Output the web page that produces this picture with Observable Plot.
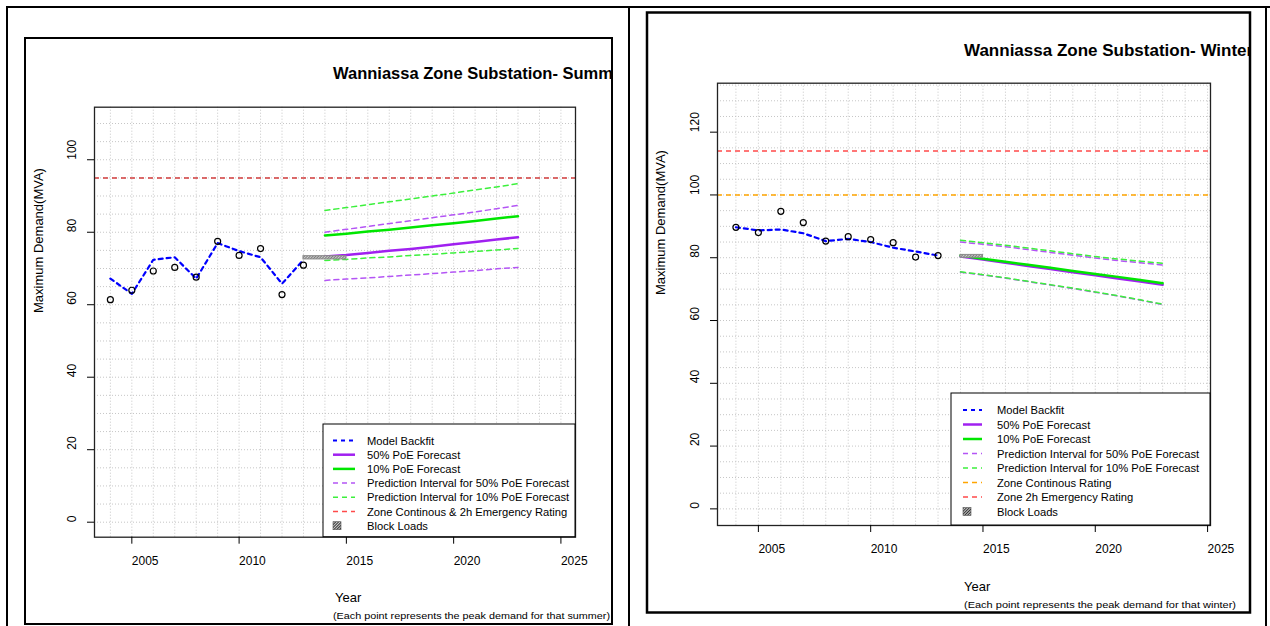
<!DOCTYPE html>
<html><head><meta charset="utf-8">
<script src="https://cdn.jsdelivr.net/npm/d3@7"></script>
<script src="https://cdn.jsdelivr.net/npm/@observablehq/plot@0.6"></script>
<style>
body{margin:0;background:#fff;width:1270px;height:626px;overflow:hidden;position:relative;font-family:"Liberation Sans",Arial,sans-serif;}
.plot{position:absolute;}
#overlay{position:absolute;left:0;top:0;}
</style></head><body>
<div id="left" class="plot" style="left:0;top:0;width:628px;height:626px"></div>
<div id="right" class="plot" style="left:640px;top:0;width:630px;height:626px"></div>
<svg id="overlay" width="1270" height="626"></svg>
<script>
// ---------- data ----------
const obsYears = [2004, 2005, 2006, 2007, 2008, 2009, 2010, 2011, 2012, 2013];
const summerPeak    = [61.4, 64.0, 69.3, 70.3, 67.6, 77.5, 73.6, 75.5, 62.8, 70.9];
const summerBackfit = [67.2, 63.0, 72.4, 73.1, 67.2, 77.0, 74.8, 73.1, 65.8, 72.4];
const winterPeak    = [89.7, 88.0, 94.8, 91.2, 85.3, 86.7, 85.8, 84.8, 80.2, 80.7];
const winterBackfit = [89.7, 88.7, 89.0, 87.8, 85.3, 86.0, 85.0, 83.2, 82.0, 80.7];

const fcYears = [2014, 2015, 2016, 2017, 2018, 2019, 2020, 2021, 2022, 2023];
const summerP50    = [73.3, 73.7, 74.3, 74.9, 75.4, 76.0, 76.7, 77.3, 78.0, 78.6];
const summerP10    = [79.1, 79.6, 80.2, 80.7, 81.3, 81.9, 82.5, 83.1, 83.8, 84.4];
const summerPI50Up = [80.0, 80.8, 81.6, 82.4, 83.2, 84.0, 84.8, 85.6, 86.5, 87.4];
const summerPI50Lo = [66.7, 67.1, 67.4, 67.8, 68.2, 68.6, 69.0, 69.4, 69.9, 70.3];
const summerPI10Up = [86.0, 86.8, 87.6, 88.4, 89.2, 90.0, 90.8, 91.7, 92.5, 93.4];
const summerPI10Lo = [72.2, 72.5, 72.9, 73.2, 73.6, 73.9, 74.3, 74.7, 75.1, 75.5];

const winterP50    = [80.4, 79.4, 78.4, 77.4, 76.4, 75.4, 74.4, 73.4, 72.4, 71.4];
const winterP10    = [80.7, 79.7, 78.7, 77.8, 76.8, 75.8, 74.8, 73.9, 72.9, 71.9];
const winterPI50Up = [85.0, 84.3, 83.5, 82.6, 81.7, 80.8, 79.9, 79.1, 78.4, 77.7];
const winterPI10Up = [85.6, 84.8, 84.0, 83.1, 82.2, 81.3, 80.4, 79.6, 78.9, 78.2];
const winterPI50Lo = [75.4, 74.5, 73.5, 72.4, 71.3, 70.2, 69.0, 67.8, 66.5, 65.1];
const winterPI10Lo = [75.5, 74.6, 73.6, 72.5, 71.4, 70.3, 69.1, 67.9, 66.6, 65.2];

const summerRating = 95;          // continuous & 2h emergency (same value)
const winterContinuous = 100;
const winterEmergency = 114;
const summerBlock = {x1: 2013, x2: 2015, y1: 72.5, y2: 73.4};
const winterBlock = {x1: 2014, x2: 2015, y1: 80.0, y2: 80.9};

const xTicks = [2005, 2010, 2015, 2020, 2025];
const summerYTicks = [0, 20, 40, 60, 80, 100];
const winterYTicks = [0, 20, 40, 60, 80, 100, 120];
const gridYears = d3.range(2004, 2026);

const summerLegend = ["Model Backfit", "50% PoE Forecast", "10% PoE Forecast",
  "Prediction Interval for 50% PoE Forecast", "Prediction Interval for 10% PoE Forecast",
  "Zone Continous & 2h Emergency Rating", "Block Loads"];
const winterLegend = ["Model Backfit", "50% PoE Forecast", "10% PoE Forecast",
  "Prediction Interval for 50% PoE Forecast", "Prediction Interval for 10% PoE Forecast",
  "Zone Continous Rating", "Zone 2h Emergency Rating", "Block Loads"];

// ---------- styles ----------
const C = {
  blue: "#0000ff", purple: "#a020f0", green: "#00e600",
  piPurple: "#b455f5", piGreen: "#3cf03c", orange: "#ffa500", red: "#ff4a4a",
  darkRed: "#d23c3c", grid: "#c6c6c6"
};
const styleOf = {
  "Model Backfit": {stroke: C.blue, w: 2.2, dash: "4,4"},
  "50% PoE Forecast": {stroke: C.purple, w: 2.5},
  "10% PoE Forecast": {stroke: C.green, w: 2.5},
  "Prediction Interval for 50% PoE Forecast": {stroke: C.piPurple, w: 1.5, dash: "5,4"},
  "Prediction Interval for 10% PoE Forecast": {stroke: C.piGreen, w: 1.5, dash: "5,4"},
  "Zone Continous & 2h Emergency Rating": {stroke: C.red, w: 1.5, dash: "5,4"},
  "Zone Continous Rating": {stroke: C.orange, w: 1.5, dash: "5,4"},
  "Zone 2h Emergency Rating": {stroke: C.red, w: 1.5, dash: "5,4"},
  "Block Loads": {hatch: true}
};

function series(years, vals) { return years.map((y, i) => ({year: y, v: vals[i]})); }

function panel(o) {
  const obs = obsYears.map((y, i) => ({year: y, peak: o.peak[i], fit: o.fit[i]}));
  const lineMarks = [];
  o.pi.forEach(([vals, color]) => lineMarks.push(Plot.line(series(fcYears, vals),
    {x: "year", y: "v", stroke: color, strokeWidth: 1.5, strokeDasharray: "5,4"})));
  o.fc.forEach(([vals, color]) => lineMarks.push(Plot.line(series(fcYears, vals),
    {x: "year", y: "v", stroke: color, strokeWidth: 2.5})));
  const svg = Plot.plot({
    width: o.width, height: o.height,
    marginLeft: o.m[0], marginRight: o.m[1], marginTop: o.m[2], marginBottom: o.m[3],
    x: {domain: o.xDomain, label: null},
    y: {domain: o.yDomain, label: null},
    style: {fontFamily: "Liberation Sans, Arial, sans-serif", fontSize: "12px", background: "transparent", overflow: "visible"},
    marks: [
      Plot.ruleX(gridYears, {stroke: C.grid, strokeDasharray: "1,2"}),
      Plot.ruleY(d3.range(0, o.yDomain[1], 5), {stroke: C.grid, strokeDasharray: "1,2"}),
      ...o.ratings.map(([v, color]) => Plot.ruleY([v], {stroke: color, strokeWidth: 1.5, strokeDasharray: "5,4"})),
      ...lineMarks,
      Plot.rect([o.block], {x1: "x1", x2: "x2", y1: "y1", y2: "y2", fill: `url(#${o.id})`, stroke: "#8a8a8a", strokeWidth: 1}),
      Plot.line(obs, {x: "year", y: "fit", stroke: C.blue, strokeWidth: 2.2, strokeDasharray: "4,4"}),
      Plot.dot(obs, {x: "year", y: "peak", r: 3, stroke: "#000", fill: "none", strokeWidth: 1.2}),
      Plot.frame({stroke: "#222", strokeWidth: 1.3}),
      Plot.axisX({ticks: xTicks, tickSize: 7, tickPadding: 12, textAnchor: "start", tickFormat: d => String(d), fontSize: 12, label: null}),
      Plot.axisY({ticks: o.yTicks, tickSize: 7, tickPadding: 12, tickRotate: -90, textAnchor: "start", tickFormat: d => String(d), fontSize: 12, label: null})
    ]
  });
  const defs = d3.select(svg).insert("defs", ":first-child");
  const p = defs.append("pattern").attr("id", o.id).attr("patternUnits", "userSpaceOnUse")
    .attr("width", 2).attr("height", 2).attr("patternTransform", "rotate(45)");
  p.append("rect").attr("width", 2).attr("height", 2).attr("fill", "#d0d0d0");
  p.append("rect").attr("width", 1).attr("height", 2).attr("fill", "#7a7a7a");
  return svg;
}

document.getElementById("left").appendChild(panel({
  id: "hatchL", width: 628, height: 626, m: [94, 53, 106.7, 89.3],
  xDomain: [2003.26, 2025.68], yDomain: [-4.14, 114.5], yTicks: summerYTicks,
  peak: summerPeak, fit: summerBackfit,
  pi: [[summerPI50Up, C.piPurple], [summerPI50Lo, C.piPurple], [summerPI10Up, C.piGreen], [summerPI10Lo, C.piGreen]],
  fc: [[summerP50, C.purple], [summerP10, C.green]],
  ratings: [[summerRating, C.darkRed]],
  block: summerBlock
}));
document.getElementById("right").appendChild(panel({
  id: "hatchR", width: 630, height: 626, m: [77, 60, 82.7, 101],
  xDomain: [2003.18, 2025.13], yDomain: [-5.3, 135.6], yTicks: winterYTicks,
  peak: winterPeak, fit: winterBackfit,
  pi: [[winterPI50Up, C.piPurple], [winterPI50Lo, C.piPurple], [winterPI10Up, C.piGreen], [winterPI10Lo, C.piGreen]],
  fc: [[winterP50, C.purple], [winterP10, C.green]],
  ratings: [[winterContinuous, C.orange], [winterEmergency, C.red]],
  block: winterBlock
}));

// ---------- overlay: frames, titles, legends ----------
const ov = d3.select("#overlay");
const ln = (x1, y1, x2, y2, w) => ov.append("line").attr("x1", x1).attr("y1", y1).attr("x2", x2).attr("y2", y2)
  .attr("stroke", "#000").attr("stroke-width", w);
ln(6, 7, 1270, 7, 2);
ln(7, 7, 7, 626, 2);
ln(629, 7, 629, 626, 2);
ln(1266, 7, 1266, 626, 2);
ov.append("rect").attr("x", 25).attr("y", 38).attr("width", 587).attr("height", 586)
  .attr("fill", "none").attr("stroke", "#000").attr("stroke-width", 2);
ov.append("rect").attr("x", 647).attr("y", 12.5).attr("width", 603).attr("height", 600)
  .attr("fill", "none").attr("stroke", "#000").attr("stroke-width", 2.5);

const hp = ov.append("defs").append("pattern").attr("id", "hatchLeg").attr("patternUnits", "userSpaceOnUse")
  .attr("width", 2).attr("height", 2).attr("patternTransform", "rotate(45)");
hp.append("rect").attr("width", 2).attr("height", 2).attr("fill", "#ccc");
hp.append("rect").attr("width", 1).attr("height", 2).attr("fill", "#333");

function texts(p) {
  const clip = ov.append("svg").attr("x", p.clip[0]).attr("y", p.clip[1]).attr("width", p.clip[2]).attr("height", p.clip[3]);
  clip.append("text").attr("x", p.title[0] - p.clip[0]).attr("y", p.title[1] - p.clip[1])
    .attr("font-size", p.titleSize).attr("font-weight", "bold").text(p.titleText);
  ov.append("text").attr("transform", `translate(${p.ylab[0]},${p.ylab[1]}) rotate(-90)`)
    .attr("font-size", 13).text("Maximum Demand(MVA)");
  ov.append("text").attr("x", p.year[0]).attr("y", p.year[1]).attr("font-size", 13).text("Year");
  ov.append("text").attr("x", p.cap[0]).attr("y", p.cap[1]).attr("font-size", 9.5)
    .attr("textLength", p.cap[2]).attr("lengthAdjust", "spacingAndGlyphs").text(p.capText);
}
texts({clip: [25, 38, 587, 586], title: [333, 79], titleSize: 16.5, titleText: "Wanniassa Zone Substation- Summer",
  ylab: [42.5, 313], year: [335, 602], cap: [333, 618.5, 277], capText: "(Each point represents the peak demand for that summer)"});
texts({clip: [647, 12.5, 603, 600], title: [964, 56], titleSize: 17, titleText: "Wanniassa Zone Substation- Winter",
  ylab: [664.5, 295], year: [964, 591], cap: [964, 607.5, 272], capText: "(Each point represents the peak demand for that winter)"});

function legend(box, items, row0, step, sx, tx) {
  ov.append("rect").attr("x", box[0]).attr("y", box[1]).attr("width", box[2] - box[0]).attr("height", box[3] - box[1])
    .attr("fill", "#fff").attr("stroke", "#000").attr("stroke-width", 1);
  items.forEach((label, i) => {
    const y = row0 + i * step, s = styleOf[label];
    if (s.hatch) {
      ov.append("rect").attr("x", sx[0]).attr("y", y - 4).attr("width", 8).attr("height", 8)
        .attr("fill", "url(#hatchLeg)").attr("stroke", "#555").attr("stroke-width", 0.6);
    } else {
      ov.append("line").attr("x1", sx[0]).attr("x2", sx[1]).attr("y1", y).attr("y2", y)
        .attr("stroke", s.stroke).attr("stroke-width", s.w).attr("stroke-dasharray", s.dash || null);
    }
    ov.append("text").attr("x", tx).attr("y", y + 4).attr("font-size", 11.2).text(label);
  });
}
legend([323, 424, 575, 536.7], summerLegend, 440.5, 14.2, [333, 355], 367);
legend([951, 393, 1210, 525], winterLegend, 410, 14.5, [963, 982], 997);
</script>
</body></html>
